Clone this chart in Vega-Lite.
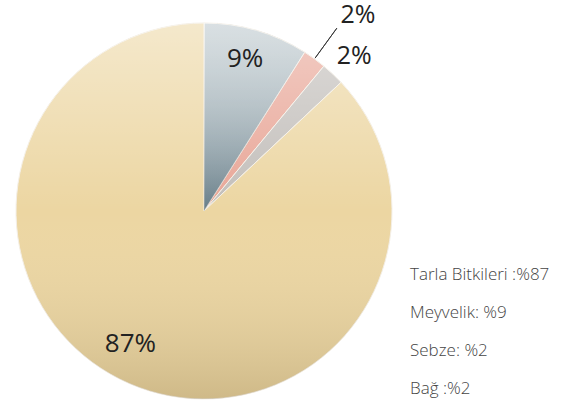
{
  "$schema": "https://vega.github.io/schema/vega-lite/v6.json",
  "width": 376,
  "height": 376,
  "padding": {"left": 16, "top": 23, "right": 177, "bottom": 7},
  "autosize": {"type": "none"},
  "background": "white",
  "config": {"view": {"stroke": null}},
  "data": {
    "values": [
      {"kategori": "Meyvelik", "value": 9, "sira": 1},
      {"kategori": "Sebze", "value": 2, "sira": 2},
      {"kategori": "Bağ", "value": 2, "sira": 3},
      {"kategori": "Tarla Bitkileri", "value": 87, "sira": 4}
    ]
  },
  "transform": [{"calculate": "datum.value + '%'", "as": "yuzde"}],
  "layer": [
    {
      "mark": {"type": "arc", "radius": 188, "stroke": "#f4efe6", "strokeWidth": 1},
      "encoding": {
        "theta": {"field": "value", "type": "quantitative", "stack": true},
        "order": {"field": "sira", "type": "quantitative"},
        "color": {
          "field": "kategori",
          "type": "nominal",
          "scale": {
            "domain": ["Tarla Bitkileri", "Meyvelik", "Sebze", "Bağ"],
            "range": ["#ecd6a2", "#a3b3ba", "#e8a596", "#c2beba"]
          },
          "legend": {
            "orient": "none",
            "legendX": 377,
            "legendY": 243,
            "title": null,
            "symbolSize": 0,
            "symbolOpacity": 0,
            "symbolStrokeWidth": 0,
            "labelOffset": 0,
            "labelFontSize": 17,
            "labelFont": "Open Sans",
            "labelFontWeight": 300,
            "labelColor": "#444444",
            "labelLimit": 300,
            "rowPadding": 20,
            "labelExpr": "datum.label == 'Tarla Bitkileri' ? 'Tarla Bitkileri :%87' : datum.label == 'Meyvelik' ? 'Meyvelik: %9' : datum.label == 'Sebze' ? 'Sebze: %2' : 'Bağ :%2'"
          }
        }
      }
    },
    {
      "mark": {
        "type": "arc",
        "radius": 188,
        "fill": {
          "gradient": "linear",
          "x1": 0, "y1": 0, "x2": 0, "y2": 1,
          "stops": [
            {"offset": 0, "color": "rgba(255,255,255,0.25)"},
            {"offset": 1, "color": "rgba(30,60,75,0.45)"}
          ]
        }
      },
      "encoding": {
        "theta": {"field": "value", "type": "quantitative", "stack": true},
        "order": {"field": "sira", "type": "quantitative"},
        "fillOpacity": {"condition": {"test": "datum.kategori == 'Meyvelik'", "value": 1}, "value": 0}
      }
    },
    {
      "data": {"values": [{"katman": "golge"}]},
      "mark": {
        "type": "arc",
        "radius": 188,
        "theta": 0,
        "theta2": 6.2832,
        "fill": {
          "gradient": "linear",
          "x1": 0, "y1": 0, "x2": 0, "y2": 1,
          "stops": [
            {"offset": 0, "color": "rgba(255,255,255,0.45)"},
            {"offset": 0.5, "color": "rgba(255,255,255,0.0)"},
            {"offset": 1, "color": "rgba(90,70,30,0.2)"}
          ]
        }
      },
      "encoding": {}
    },
    {
      "transform": [
        {"window": [{"op": "sum", "field": "value", "as": "cum"}], "sort": [{"field": "sira"}], "frame": [null, 0]},
        {"filter": "datum.kategori == 'Sebze'"},
        {"calculate": "(datum.cum - datum.value / 2) / 100 * 2 * PI", "as": "orta"}
      ],
      "mark": {"type": "arc", "radius": 189, "radius2": 226, "stroke": "#333333", "strokeWidth": 0.9, "fill": null},
      "encoding": {
        "theta": {"field": "orta", "type": "quantitative", "scale": null},
        "theta2": {"field": "orta"}
      }
    },
    {
      "mark": {"type": "text", "radius": 158, "dx": -3, "fontSize": 26, "font": "Open Sans", "color": "#222222", "baseline": "middle"},
      "encoding": {
        "theta": {"field": "value", "type": "quantitative", "stack": true},
        "order": {"field": "sira", "type": "quantitative"},
        "text": {"condition": {"test": "datum.kategori == 'Meyvelik'", "field": "yuzde"}, "value": ""}
      }
    },
    {
      "mark": {"type": "text", "radius": 150, "dx": -14, "dy": -5, "fontSize": 26, "font": "Open Sans", "color": "#222222", "baseline": "middle"},
      "encoding": {
        "theta": {"field": "value", "type": "quantitative", "stack": true},
        "order": {"field": "sira", "type": "quantitative"},
        "text": {"condition": {"test": "datum.kategori == 'Tarla Bitkileri'", "field": "yuzde"}, "value": ""}
      }
    },
    {
      "mark": {"type": "text", "radius": 245, "dx": 10, "dy": 2, "fontSize": 25, "font": "Open Sans", "color": "#222222", "baseline": "middle"},
      "encoding": {
        "theta": {"field": "value", "type": "quantitative", "stack": true},
        "order": {"field": "sira", "type": "quantitative"},
        "text": {"condition": {"test": "datum.kategori == 'Sebze'", "field": "yuzde"}, "value": ""}
      }
    },
    {
      "mark": {"type": "text", "radius": 212, "dx": 5, "fontSize": 25, "font": "Open Sans", "color": "#222222", "baseline": "middle"},
      "encoding": {
        "theta": {"field": "value", "type": "quantitative", "stack": true},
        "order": {"field": "sira", "type": "quantitative"},
        "text": {"condition": {"test": "datum.kategori == 'Bağ'", "field": "yuzde"}, "value": ""}
      }
    }
  ],
  "resolve": {"scale": {"theta": "independent"}}
}
